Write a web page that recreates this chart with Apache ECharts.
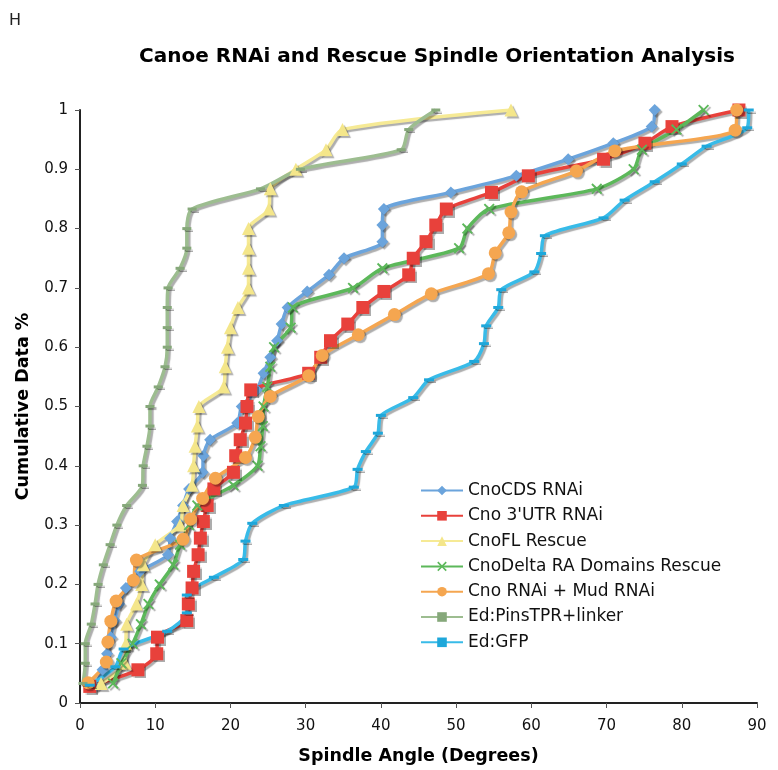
<!DOCTYPE html>
<html>
<head>
<meta charset="utf-8">
<script src="https://cdn.jsdelivr.net/npm/echarts@6/dist/echarts.min.js"></script>
<style>html,body{margin:0;padding:0;background:#fff}#c{width:778px;height:770px}</style>
</head>
<body>
<div id="c"></div>
<script>
var seriesNames = ["CnoCDS RNAi","Cno 3'UTR RNAi","CnoFL Rescue","CnoDelta RA Domains Rescue","Cno RNAi + Mud RNAi","Ed:PinsTPR+linker","Ed:GFP"];
var xTicks = [0,10,20,30,40,50,60,70,80,90];
var yTicks = [0,0.1,0.2,0.3,0.4,0.5,0.6,0.7,0.8,0.9,1];

var cdsX = [2,3,3.6,4.1,4.6,5.2,6.1,8,11.7,12,12.9,13.7,14.5,16.3,16.4,17.3,20.9,21.5,23.5,24.4,25.3,26.2,26.8,27.6,30.2,33.1,35.1,40.2,40.2,40.4,49.3,58,64.9,70.9,76,76.4];
var cdsY = [0.028,0.056,0.083,0.111,0.139,0.167,0.194,0.222,0.25,0.278,0.306,0.333,0.361,0.389,0.417,0.444,0.472,0.5,0.528,0.556,0.583,0.611,0.639,0.667,0.694,0.722,0.75,0.778,0.806,0.833,0.861,0.889,0.917,0.944,0.972,1];

var utrX = [1.3,7.7,10.2,10.3,14.2,14.4,14.9,15.1,15.7,16,16.4,16.9,17.8,20.4,20.7,21.3,22,22.2,22.7,30.4,32,33.3,35.6,37.6,40.4,43.7,44.3,46,47.3,48.7,54.7,59.6,69.6,75.1,78.7,87.6];
var utrY = [0.028,0.056,0.083,0.111,0.139,0.167,0.194,0.222,0.25,0.278,0.306,0.333,0.361,0.389,0.417,0.444,0.472,0.5,0.528,0.556,0.583,0.611,0.639,0.667,0.694,0.722,0.75,0.778,0.806,0.833,0.861,0.889,0.917,0.944,0.972,1];

var flX = [2.8,6,6.1,6.2,7.5,8.2,8.4,10,13.3,13.7,14.9,15.1,15.3,15.6,15.8,19.1,19.3,19.6,20,21,22.4,22.4,22.4,22.4,25.1,25.3,28.7,32.7,34.9,57.3];
var flY = [0.033,0.067,0.1,0.133,0.167,0.2,0.233,0.267,0.3,0.333,0.367,0.4,0.433,0.467,0.5,0.533,0.567,0.6,0.633,0.667,0.7,0.733,0.767,0.8,0.833,0.867,0.9,0.933,0.967,1];

var deltaX = [4.4,5.5,7,8.1,9.1,10.6,12.4,13.3,14.5,15.6,20.4,23.6,24,24.3,24.4,24.9,25.3,25.8,28,28.3,36.3,40.2,50.4,51.5,54.4,68.7,73.6,74.7,79.3,82.9];
var deltaY = [0.033,0.067,0.1,0.133,0.167,0.2,0.233,0.267,0.3,0.333,0.367,0.4,0.433,0.467,0.5,0.533,0.567,0.6,0.633,0.667,0.7,0.733,0.767,0.8,0.833,0.867,0.9,0.933,0.967,1];

var mudX = [1.1,3.5,3.7,4.1,4.8,7.1,7.5,13.7,14.7,16.3,18,22,23.3,23.7,25.3,30.4,32.2,37,41.8,46.7,54.3,55.2,57,57.3,58.7,66,71.1,87.1,87.3];
var mudY = [0.034,0.069,0.103,0.138,0.172,0.207,0.241,0.276,0.31,0.345,0.379,0.414,0.448,0.483,0.517,0.552,0.586,0.621,0.655,0.69,0.724,0.759,0.793,0.828,0.862,0.897,0.931,0.966,1];

var pinsX = [0.4,0.7,0.7,1.5,2,2.4,3.1,4,4.9,6.2,8.3,8.4,8.9,9.3,9.3,10.4,11.3,11.6,11.6,11.6,11.7,13.3,14.2,14.2,14.9,24,29.3,42.7,43.7,47.3];
var pinsY = [0.033,0.067,0.1,0.133,0.167,0.2,0.233,0.267,0.3,0.333,0.367,0.4,0.433,0.467,0.5,0.533,0.567,0.6,0.633,0.667,0.7,0.733,0.767,0.8,0.833,0.867,0.9,0.933,0.967,1];

var gfpX = [1.3,4.7,5.8,11.6,14.2,14.2,17.8,21.7,22,22.9,27.1,36.4,36.9,38,39.6,40,44.3,46.4,52.4,53.7,54,55.6,56,60.4,61.3,61.8,69.6,72.4,76.4,80,83.3,88.7,88.9];
var gfpY = [0.03,0.061,0.091,0.121,0.152,0.182,0.212,0.242,0.273,0.303,0.333,0.364,0.394,0.424,0.455,0.485,0.515,0.545,0.576,0.606,0.636,0.667,0.697,0.727,0.758,0.788,0.818,0.848,0.879,0.909,0.939,0.97,1];

function zip(xs, ys){ return xs.map(function(x,i){ return [x, ys[i]]; }); }

var xPath = 'path://M0,1.2 L1.2,0 L5,3.8 L8.8,0 L10,1.2 L6.2,5 L10,8.8 L8.8,10 L5,6.2 L1.2,10 L0,8.8 L3.8,5 Z';
var shadow = {shadowColor:'rgba(0,0,0,0.32)', shadowOffsetX:2, shadowOffsetY:2, shadowBlur:1};

function mk(name, xs, ys, color, mcolor, symbol, size){
  return {
    name: name, type: 'line', data: zip(xs, ys),
    smooth: 0.25, symbol: symbol, symbolSize: size, showSymbol: true,
    lineStyle: Object.assign({color: color, width: 3.5}, shadow),
    itemStyle: Object.assign({color: mcolor, borderWidth: 0}, shadow),
    emphasis: {disabled: true}, animation: false
  };
}

var chart = echarts.init(document.getElementById('c'));
chart.setOption({
  animation: false,
  backgroundColor: '#ffffff',
  textStyle: {fontFamily: 'DejaVu Sans'},
  title: {
    text: 'Canoe RNAi and Rescue Spindle Orientation Analysis',
    left: 432, top: 42, textAlign: 'center',
    textStyle: {fontSize: 20, fontWeight: 'bold', color: '#000', fontFamily: 'DejaVu Sans'}
  },
  graphic: [{type:'text', left: 9, top: 13, style:{text:'H', fontSize: 16, fill:'#222', fontFamily:'DejaVu Sans'}}],
  legend: {
    orient: 'vertical', left: 415, top: 477,
    itemWidth: 42, itemHeight: 12, itemGap: 8.3,
    textStyle: {fontSize: 17, color: '#111', fontFamily: 'DejaVu Sans'},
    data: seriesNames
  },
  grid: {left: 80, right: 21, top: 110, bottom: 65, containLabel: false},
  xAxis: {
    type: 'value', min: xTicks[0], max: xTicks[xTicks.length-1], interval: 10,
    name: 'Spindle Angle (Degrees)', nameLocation: 'middle', nameGap: 44,
    nameTextStyle: {fontSize: 17.5, fontWeight: 'bold', color: '#000'},
    axisLine: {lineStyle: {color: '#222', width: 2}},
    axisTick: {show: true, inside: false, length: 5, lineStyle: {color: '#555'}},
    axisLabel: {fontSize: 15, color: '#111', margin: 16},
    splitLine: {show: false}
  },
  yAxis: {
    type: 'value', min: yTicks[0], max: yTicks[yTicks.length-1], interval: 0.1,
    name: 'Cumulative Data %', nameLocation: 'middle', nameGap: 48,
    nameTextStyle: {fontSize: 17.5, fontWeight: 'bold', color: '#000'},
    axisLine: {show: true, lineStyle: {color: '#222', width: 2}},
    axisTick: {show: true, inside: false, length: 5, lineStyle: {color: '#555'}},
    axisLabel: {fontSize: 15, color: '#111', margin: 12},
    splitLine: {show: false}
  },
  series: [
    mk(seriesNames[0], cdsX, cdsY, '#6ba4dc', '#6ba4dc', 'diamond', 12),
    mk(seriesNames[1], utrX, utrY, '#e8413b', '#e8413b', 'rect', 13),
    mk(seriesNames[2], flX, flY, '#f6ea95', '#f4e68a', 'triangle', 13),
    mk(seriesNames[3], deltaX, deltaY, '#5cb85a', '#5cb85a', xPath, 11),
    mk(seriesNames[4], mudX, mudY, '#f5a650', '#f5a650', 'circle', 13),
    mk(seriesNames[5], pinsX, pinsY, '#9dbd90', '#86a87a', 'rect', [9,3]),
    mk(seriesNames[6], gfpX, gfpY, '#38bbe8', '#1ea7da', 'rect', [10,3])
  ]
});
</script>
</body>
</html>
